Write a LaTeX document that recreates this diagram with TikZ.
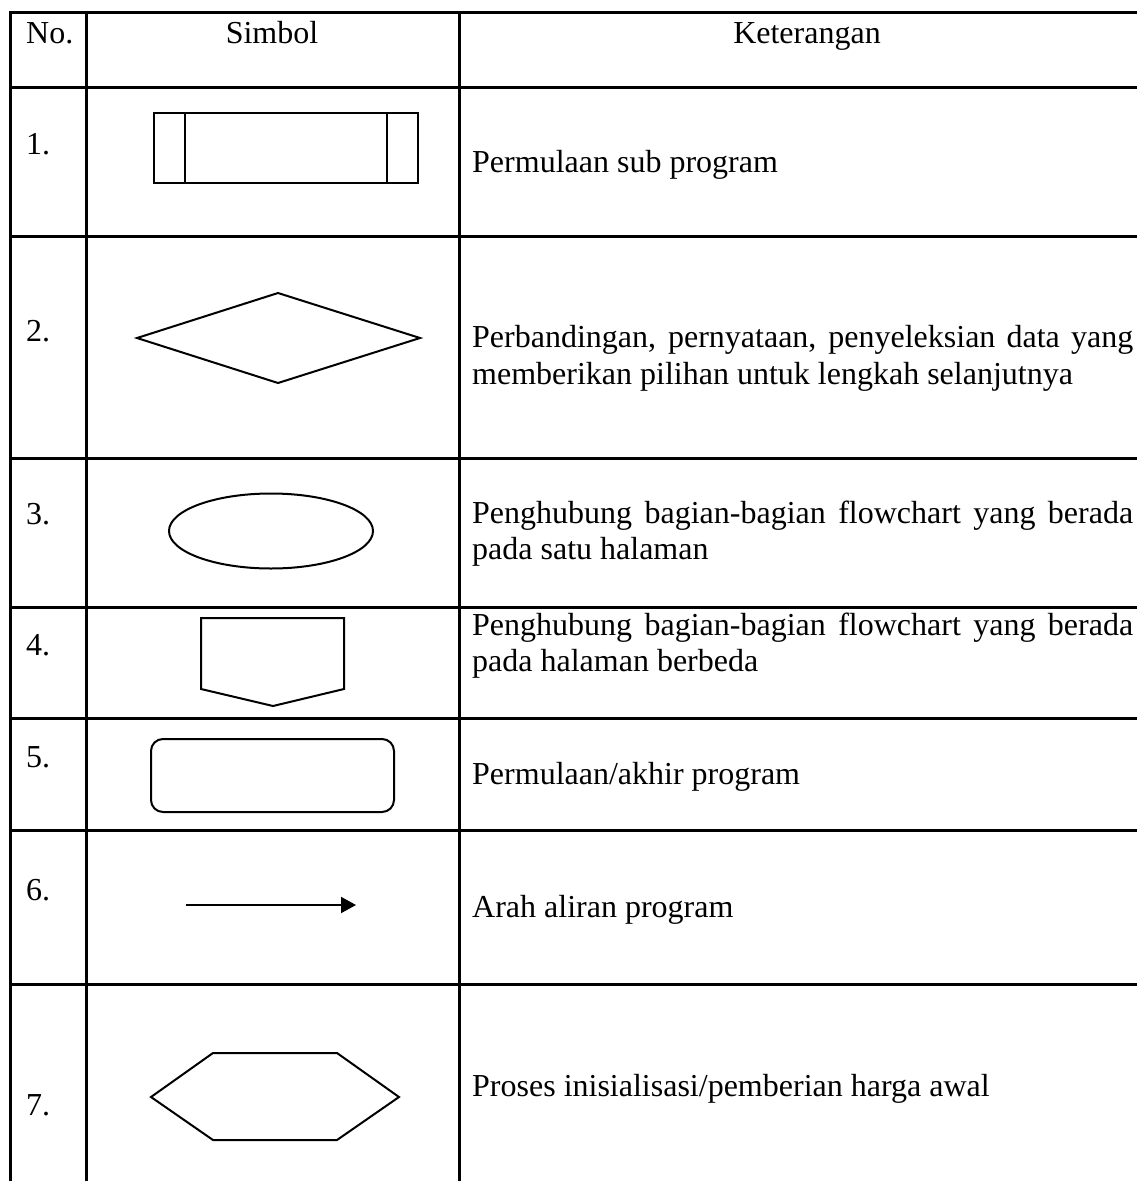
\documentclass[tikz,border=0pt]{standalone}
\usepackage{fontspec}
\setmainfont{Liberation Serif}
\usetikzlibrary{arrows.meta}
\begin{document}
\begin{tikzpicture}[x=1pt,y=-1pt,
  gridline/.style={line width=3pt, line cap=rect},
  shp/.style={line width=2pt, line join=miter},
  txt/.style={anchor=base west, inner sep=0pt, font=\fontsize{32}{37}\selectfont},
  hdr/.style={anchor=base, inner sep=0pt, font=\fontsize{32}{37}\selectfont}]
\useasboundingbox (0,0) rectangle (1136,1181);
\fill[white] (0,0) rectangle (1136,1181);
% table grid
\foreach \yy in {12,87,236,458,607,718,830,984}
  \draw[gridline] (10,\yy) -- (1140,\yy);
\foreach \xx in {10,86,459}
  \draw[gridline] (\xx,12) -- (\xx,1190);
% header
\node[txt] (hno) at (26,43) {No.};
\node[hdr] (hsim) at (272,43) {Simbol};
\node[hdr] (hket) at (807,43) {Keterangan};
% row 1
\node[txt] (n1) at (26,154) {1.};
\draw[shp] (154,113) rectangle (418,183);
\draw[shp] (185,113) -- (185,183);
\draw[shp] (387,113) -- (387,183);
\node[txt] (k1) at (472,172) {Permulaan sub program};
% row 2
\node[txt] (n2) at (26,341) {2.};
\draw[shp] (137,338) -- (278,293) -- (420,338) -- (278,383) -- cycle;
\node[txt] (k2a) at (472,347) {\makebox[661pt][s]{Perbandingan, pernyataan, penyeleksian data yang}};
\node[txt] (k2b) at (472,384) {memberikan pilihan untuk lengkah selanjutnya};
% row 3
\node[txt] (n3) at (26,524) {3.};
\draw[shp] (271,531) ellipse [x radius=102pt, y radius=37.5pt];
\node[txt] (k3a) at (472,523) {\makebox[661pt][s]{Penghubung bagian-bagian flowchart yang berada}};
\node[txt] (k3b) at (472,559) {pada satu halaman};
% row 4
\node[txt] (n4) at (26,655) {4.};
\draw[shp] (201,618) -- (344,618) -- (344,689) -- (273,706) -- (201,689) -- cycle;
\node[txt] (k4a) at (472,635) {\makebox[661pt][s]{Penghubung bagian-bagian flowchart yang berada}};
\node[txt] (k4b) at (472,671) {pada halaman berbeda};
% row 5
\node[txt] (n5) at (26,767) {5.};
\draw[shp, rounded corners=12pt] (151,739) rectangle (394,812);
\node[txt] (k5) at (472,784) {Permulaan/akhir program};
% row 6
\node[txt] (n6) at (26,900) {6.};
\coordinate (a6s) at (186,905);
\coordinate (a6e) at (356,905);
\draw[line width=2pt, -{Triangle[length=15pt,width=16pt]}] (a6s) -- (a6e);
\node[txt] (k6) at (472,917) {Arah aliran program};
% row 7
\node[txt] (n7) at (26,1115) {7.};
\draw[shp] (151,1097) -- (213,1053) -- (337,1053) -- (399,1097) -- (337,1140) -- (213,1140) -- cycle;
\node[txt] (k7) at (472,1096) {Proses inisialisasi/pemberian harga awal};
\end{tikzpicture}
\end{document}
